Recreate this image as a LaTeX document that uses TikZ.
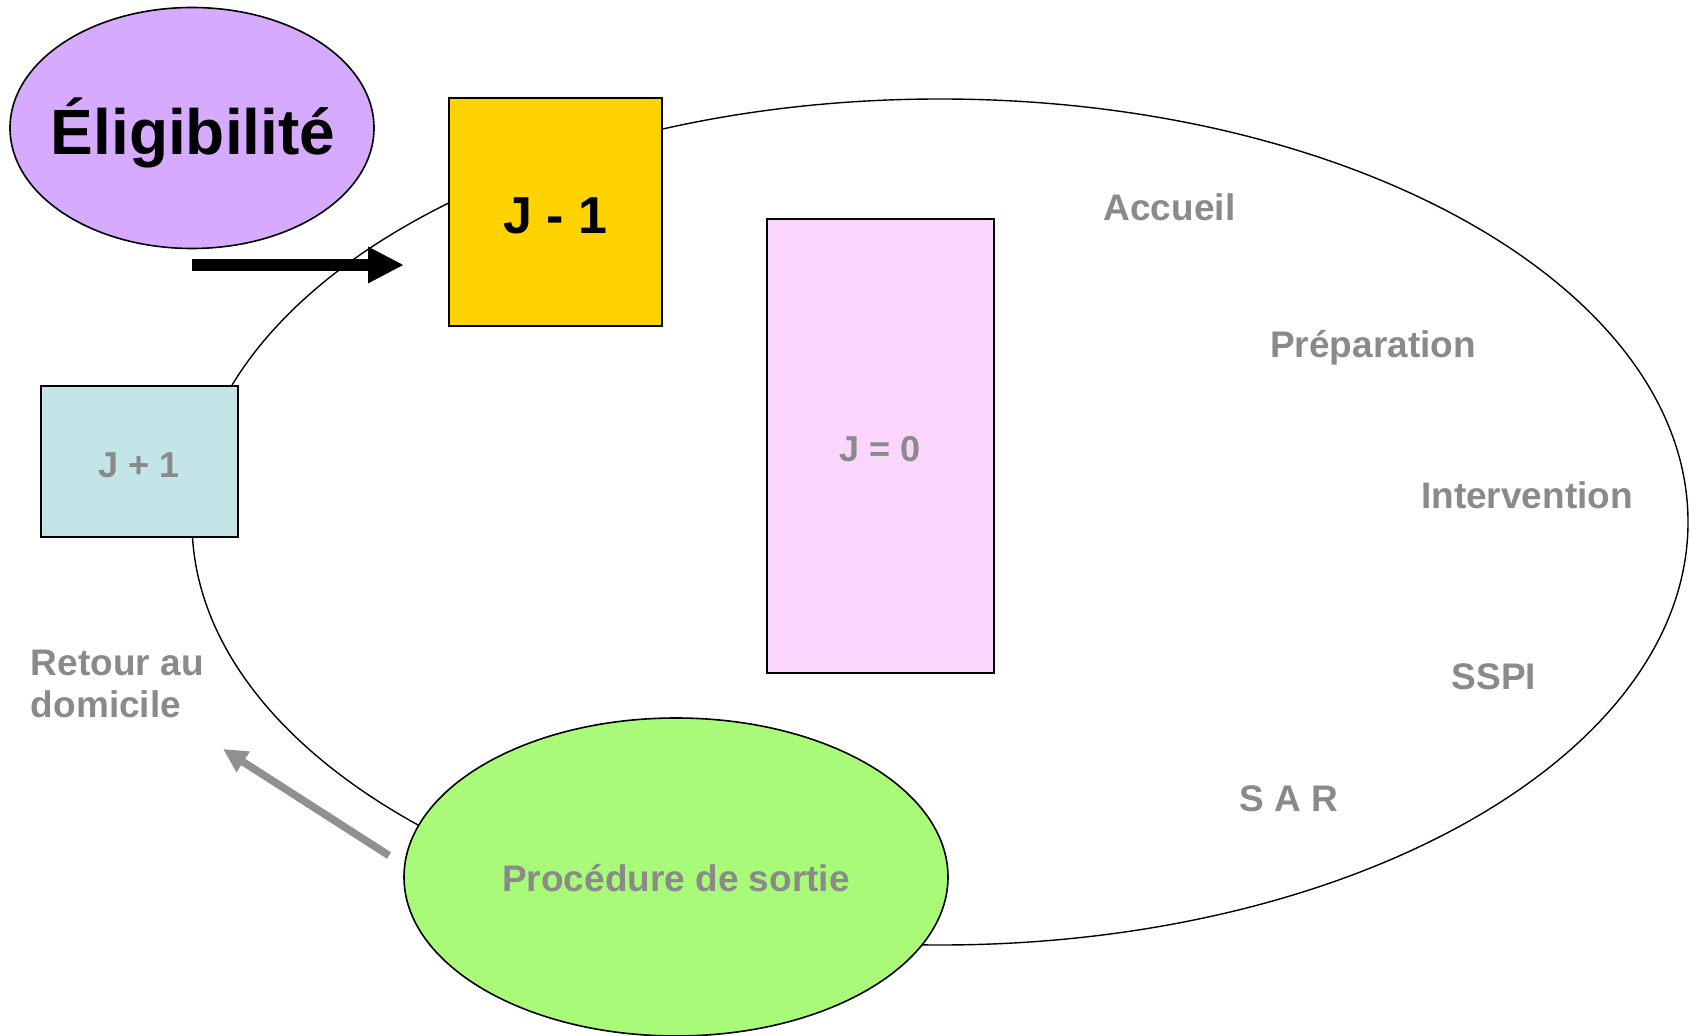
\documentclass[tikz,border=0pt]{standalone}
\usepackage{fontspec}
\setmainfont{Liberation Sans}
\usetikzlibrary{shapes.geometric,arrows.meta}

\definecolor{eligfill}{HTML}{D6ABFF}
\definecolor{veillefill}{HTML}{FFD300}
\definecolor{lendemainfill}{HTML}{C4E5E8}
\definecolor{jourfill}{HTML}{FCD5FD}
\definecolor{sortiefill}{HTML}{A8FA78}
\definecolor{phasegray}{HTML}{8A8A8A}
\definecolor{arrowgray}{HTML}{909090}

\begin{document}
\begin{tikzpicture}[x=0.5pt,y=-0.5pt,
  outline/.style={draw=black, line width=0.8pt},
  daybox/.style={outline, rectangle, inner sep=0pt, text depth=0pt},
  phase/.style={font=\bfseries\fontsize{18.5}{21}\selectfont, text=phasegray, inner sep=0pt, anchor=base},
]
\useasboundingbox (0,0) rectangle (1690,1036);
\fill[white] (0,0) rectangle (1690,1036);

% the day-surgery cycle
\node[draw, line width=0.7pt, ellipse, inner sep=0pt,
      minimum width=748pt, minimum height=423pt] (parcours) at (940,522) {};

% eligibility
\node[outline, ellipse, fill=eligfill, inner sep=0pt,
      minimum width=182pt, minimum height=120.5pt] (elig) at (192,128) {};
\node[font=\bfseries\fontsize{32}{38}\selectfont, inner sep=0pt, anchor=base]
      (eligtext) at (193,155) {Éligibilité};

% days
\node[daybox, fill=veillefill, minimum width=106.5pt, minimum height=114pt,
      text height=22pt, font=\bfseries\fontsize{26}{30}\selectfont]
      (veille) at (555.5,212) {J - 1};
\node[daybox, fill=lendemainfill, minimum width=98.5pt, minimum height=75.5pt,
      text height=16pt, text=phasegray, font=\bfseries\fontsize{18}{22}\selectfont]
      (lendemain) at (139.5,461.5) {J + 1};
\node[daybox, fill=jourfill, minimum width=113.5pt, minimum height=226.75pt,
      text height=16pt, text=phasegray, font=\bfseries\fontsize{18}{22}\selectfont]
      (jour) at (880.5,446) {J = 0};

% discharge
\node[outline, ellipse, fill=sortiefill, inner sep=0pt, text height=14pt, text depth=0pt,
      minimum width=272pt, minimum height=159pt, text=phasegray,
      font=\bfseries\fontsize{18.5}{22}\selectfont]
      (sortie) at (676,877) {Procédure de sortie};

% phases of day J
\node[phase] (accueil) at (1169.5,220.6) {Accueil};
\node[phase] (prep) at (1373,358) {Préparation};
\node[phase] (interv) at (1527,509) {Intervention};
\node[phase] (sspi) at (1494,689.6) {SSPI};
\node[phase] (sar) at (1288.5,811) {S A R};
\node[phase, anchor=base west, align=left] (retour) at (30.6,717) {Retour au\\domicile};

% arrows
\coordinate (eligA) at (192,265);
\coordinate (eligB) at (404,265);
\draw[line width=6pt, -{Triangle[length=18pt,width=17pt]}] (eligA) -- (eligB);

\coordinate (sortieA) at (389,855.5);
\coordinate (sortieB) at (223,749);
\draw[arrowgray, line width=3.8pt, -{Triangle[length=12pt,width=11.5pt]}] (sortieA) -- (sortieB);
\end{tikzpicture}
\end{document}
